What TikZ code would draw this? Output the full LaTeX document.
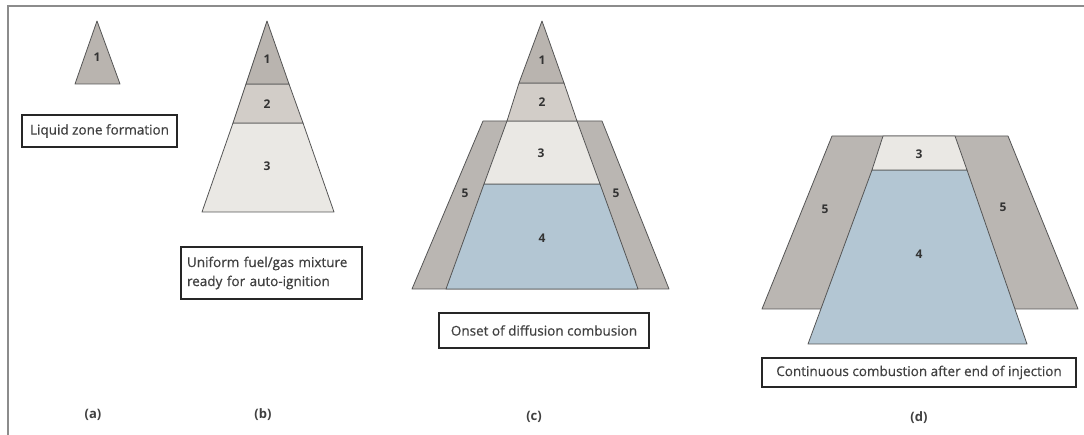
\documentclass[tikz,border=0pt]{standalone}
\usepackage{fontspec}
\setmainfont{Open Sans}
\newfontfamily\capfont{Open Sans}[FakeBold=0.5]
\definecolor{zoneone}{HTML}{B9B4AF}
\definecolor{zonetwo}{HTML}{D2CDC8}
\definecolor{zonethree}{HTML}{EAE8E4}
\definecolor{zonefour}{HTML}{B3C6D3}
\definecolor{zonefive}{HTML}{BAB6B2}
\definecolor{edgegray}{HTML}{555555}
\definecolor{textgray}{HTML}{404040}
\tikzset{
  zone/.style={draw=edgegray,line width=0.8pt,line join=round},
  num/.style={font=\bfseries\fontsize{12}{13}\selectfont,text=black!80},
  caption/.style={draw=black!85,line width=2pt,fill=white,text=textgray,
    font=\capfont\fontsize{13.5}{17}\selectfont,inner sep=0pt},
  tag/.style={font=\bfseries\fontsize{13}{15}\selectfont,text=black!75}
}
\begin{document}
\begin{tikzpicture}
  [x=1pt,y=-1pt]
    \useasboundingbox (0,0) rectangle (1084,435);
    \draw[black!45,line width=1.5pt] (1084,6) -- (8,6) -- (8,435);

    % (a)
    \draw[zone,fill=zoneone] (97,21) -- (120,84) -- (75,84) -- cycle;
    \node (a1)[num] at (97,57) {1};
    \node (capa)[caption,minimum width=155pt,minimum height=32pt] at (99.5,131) {Liquid zone formation};
    \node (taga)[tag] at (93,415) {(a)};

    % (b)
    \draw[zone,fill=zonethree] (233,123) -- (303,123) -- (334,212) -- (202,212) -- cycle;
    \draw[zone,fill=zonetwo] (246,84) -- (289,84) -- (303,123) -- (233,123) -- cycle;
    \draw[zone,fill=zoneone] (267,21) -- (289,84) -- (246,84) -- cycle;
    \node (b1)[num] at (267,59) {1};
    \node (b2)[num] at (267,104) {2};
    \node (b3)[num] at (267,166) {3};
    \node (capb)[caption,minimum width=181pt,minimum height=52pt,align=left,
      text width=169pt] at (271.5,273) {Uniform fuel/gas mixture\\[2pt]ready for auto-ignition};
    \node (tagb)[tag] at (263,415) {(b)};

    % (c)
    \draw[zone,fill=zonefive] (483,121) -- (602,121) -- (669,289) -- (412,289) -- cycle;
    \draw[zone,fill=zonefour] (484,184) -- (600,184) -- (638,289) -- (446,289) -- cycle;
    \draw[zone,fill=zonethree] (507,121) -- (577,121) -- (600,184) -- (484,184) -- cycle;
    \draw[zone,fill=zonetwo] (519,83) -- (564,83) -- (577,121) -- (507,121) -- cycle;
    \draw[zone,fill=zoneone] (542,21) -- (564,83) -- (519,83) -- cycle;
    \node (c1)[num] at (542,60) {1};
    \node (c2)[num] at (542,102) {2};
    \node (c3)[num] at (541,153) {3};
    \node (c4)[num] at (542,238) {4};
    \node (c5l)[num] at (465,193) {5};
    \node (c5r)[num] at (616,193) {5};
    \node (capc)[caption,minimum width=210pt,minimum height=35pt] at (544,330.5) {Onset of diffusion combusion};
    \node (tagc)[tag] at (534,417) {(c)};

    % (d)
    \draw[zone,fill=zonefive] (832,136) -- (1008,136) -- (1078,309) -- (762,309) -- cycle;
    \draw[zone,fill=zonefour] (872,170) -- (967,170) -- (1027,344) -- (808,344) -- cycle;
    \draw[zone,fill=zonethree] (883,136) -- (955,136) -- (967,170) -- (872,170) -- cycle;
    \node (d3)[num] at (919,154) {3};
    \node (d4)[num] at (919,254) {4};
    \node (d5l)[num] at (825,209) {5};
    \node (d5r)[num] at (1003,207) {5};
    \node (capd)[caption,minimum width=314pt,minimum height=29pt] at (919,372.5) {Continuous combustion after end of injection};
    \node (tagd)[tag] at (919,418) {(d)};
\end{tikzpicture}
\end{document}
